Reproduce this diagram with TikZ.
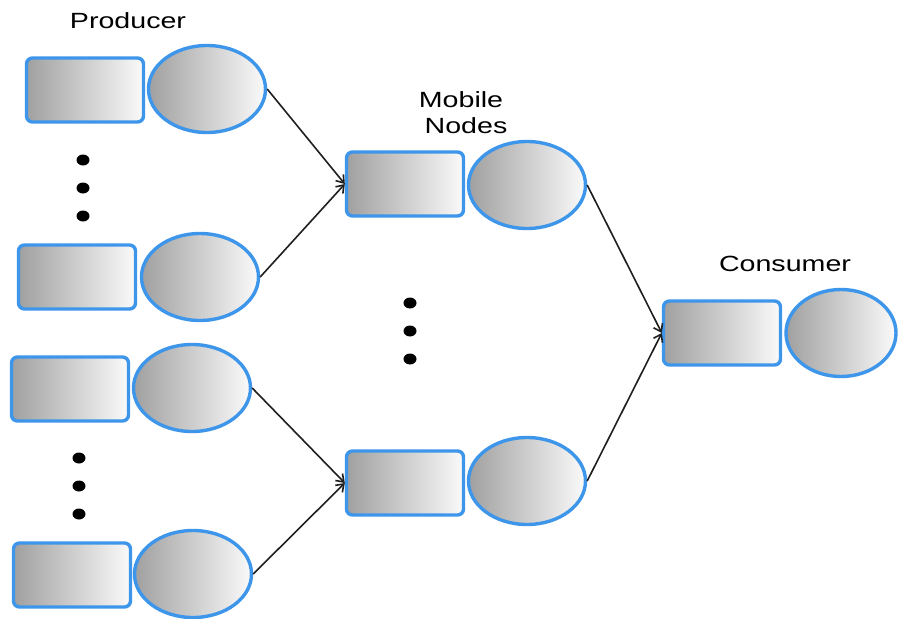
\documentclass[tikz,border=0pt]{standalone}
\usepackage{fontspec}
\setmainfont{Liberation Sans}
\usetikzlibrary{shapes.geometric,arrows.meta}
\definecolor{edgeblue}{RGB}{62,150,235}
\definecolor{shadedark}{RGB}{160,160,160}
\definecolor{shadelight}{RGB}{250,250,250}
\begin{document}
\begin{tikzpicture}[x=1pt,y=-1pt,
  box/.style={rectangle, rounded corners=6pt, draw=edgeblue, line width=3.4pt,
    minimum width=117pt, minimum height=64pt, inner sep=0pt,
    left color=shadedark, right color=shadelight},
  oval/.style={ellipse, draw=edgeblue, line width=3.4pt,
    minimum width=117pt, minimum height=87pt, inner sep=0pt,
    left color=shadedark, right color=shadelight},
  link/.style={draw=black!88, line width=1.6pt,
    -{Straight Barb[length=7pt,width=10pt]}},
  heading/.style={font=\fontsize{22}{26}\selectfont, anchor=base, inner sep=0pt}
]
% canvas
\fill[white] (0,0) rectangle (898,619);
\useasboundingbox (0,0) rectangle (898,619);

% titles
\node[heading] (tprod) at (128,28) {\scalebox{1.3}[1]{Producer}};
\node[heading] (tmob1) at (461,107) {\scalebox{1.3}[1]{Mobile}};
\node[heading] (tmob2) at (466,133) {\scalebox{1.3}[1]{Nodes}};
\node[heading] (tcons) at (785,271) {\scalebox{1.3}[1]{Consumer}};

% producers
\node[box]  (p1r) at (85,90)  {};
\node[oval] (p1e) at (207,89) {};
\node[box]  (p2r) at (77,277) {};
\node[oval] (p2e) at (200,277) {};
\node[box]  (p3r) at (70,389) {};
\node[oval] (p3e) at (192,388) {};
\node[box]  (p4r) at (72,575) {};
\node[oval] (p4e) at (193,574) {};

% mobile nodes
\node[box]  (m1r) at (405,184) {};
\node[oval] (m1e) at (527,185) {};
\node[box]  (m2r) at (405,483) {};
\node[oval] (m2e) at (527,481) {};

% consumer
\node[box]  (cr) at (722,333) {};
\node[oval, minimum width=110pt] (ce) at (841,333) {};

% ellipsis dots
\foreach \px/\py in {83/160,83/188,83/216,79/458,79/486,79/514,410/303,410/331,410/359}
  \fill[black] (\px,\py) ellipse [x radius=6.5pt, y radius=5.5pt];

% connectors
\draw[link] (p1e.east) -- (m1r.west);
\draw[link] (p2e.east) -- (m1r.west);
\draw[link] (p3e.east) -- (m2r.west);
\draw[link] (p4e.east) -- (m2r.west);
\draw[link] (m1e.east) -- (cr.west);
\draw[link] (m2e.east) -- (cr.west);
\end{tikzpicture}
\end{document}
